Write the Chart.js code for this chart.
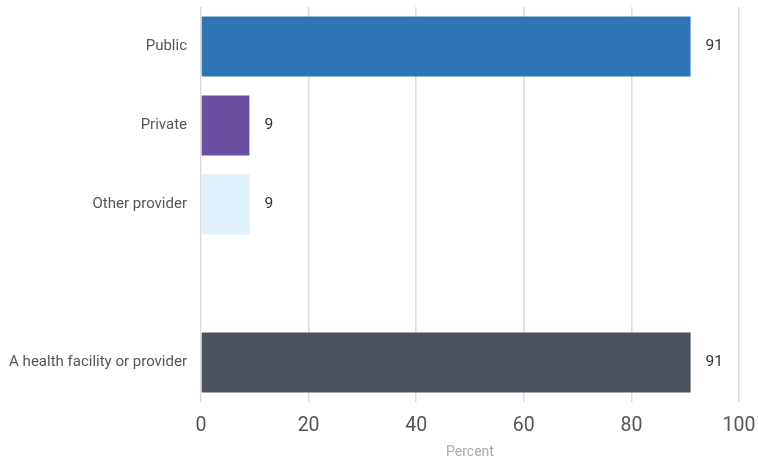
<!DOCTYPE html>
<html>
<head>
<meta charset="utf-8">
<script src="https://cdn.jsdelivr.net/npm/chart.js@4"></script>
<style>
  html, body { margin: 0; padding: 0; background: #fff; }
  #wrap { width: 758px; height: 464px; }
</style>
</head>
<body>
<div id="wrap"><canvas id="providerChart"></canvas></div>
<script>
// Source of care, percent
const categories = ['Public', 'Private', 'Other provider', '', 'A health facility or provider'];
const values = [91, 9, 9, null, 91];
const barColors = ['#2e75b6', '#6a4fa3', '#dff0fa', '#ffffff', '#4a525c'];
const xTicks = [0, 20, 40, 60, 80, 100];

const FONT = 'Roboto, "Open Sans", sans-serif';

// Writes the value just past the end of each bar
const valueLabels = {
  id: 'valueLabels',
  afterDatasetsDraw(chart) {
    const ctx = chart.ctx;
    const meta = chart.getDatasetMeta(0);
    ctx.save();
    ctx.font = '15.5px ' + FONT;
    ctx.fillStyle = '#333';
    ctx.textAlign = 'left';
    ctx.textBaseline = 'middle';
    meta.data.forEach((bar, i) => {
      if (values[i] == null) return;
      ctx.fillText(values[i], bar.x + 15, bar.y);
    });
    ctx.restore();
  }
};

new Chart(document.getElementById('providerChart'), {
  type: 'bar',
  data: {
    labels: categories,
    datasets: [{
      data: values,
      backgroundColor: barColors,
      barPercentage: 0.76,
      categoryPercentage: 1
    }]
  },
  options: {
    indexAxis: 'y',
    responsive: true,
    maintainAspectRatio: false,
    animation: false,
    layout: { padding: { top: 7, right: 19, left: 0, bottom: 0 } },
    plugins: {
      legend: { display: false },
      tooltip: { enabled: false }
    },
    scales: {
      x: {
        min: 0,
        max: 100,
        afterBuildTicks(scale) {
          scale.ticks = xTicks.map(v => ({ value: v }));
        },
        afterFit(scale) {
          scale.height = 62;
          scale.paddingLeft = 0;
          scale.paddingRight = 0;
        },
        border: { display: false },
        grid: { color: '#dcdcdc', lineWidth: 1.5, tickLength: 0 },
        ticks: { color: '#555', padding: 12, font: { family: FONT, size: 19.5 } },
        title: {
          display: true,
          text: 'Percent',
          color: '#aaa',
          padding: { top: 2, bottom: 3 },
          font: { family: FONT, size: 14 }
        }
      },
      y: {
        afterFit(scale) {
          scale.width = 201;
          scale.paddingTop = 0;
          scale.paddingBottom = 0;
        },
        border: { display: false },
        grid: { display: false, tickLength: 0 },
        ticks: { color: '#555', padding: 14, font: { family: FONT, size: 15 } }
      }
    }
  },
  plugins: [valueLabels]
});
</script>
</body>
</html>
